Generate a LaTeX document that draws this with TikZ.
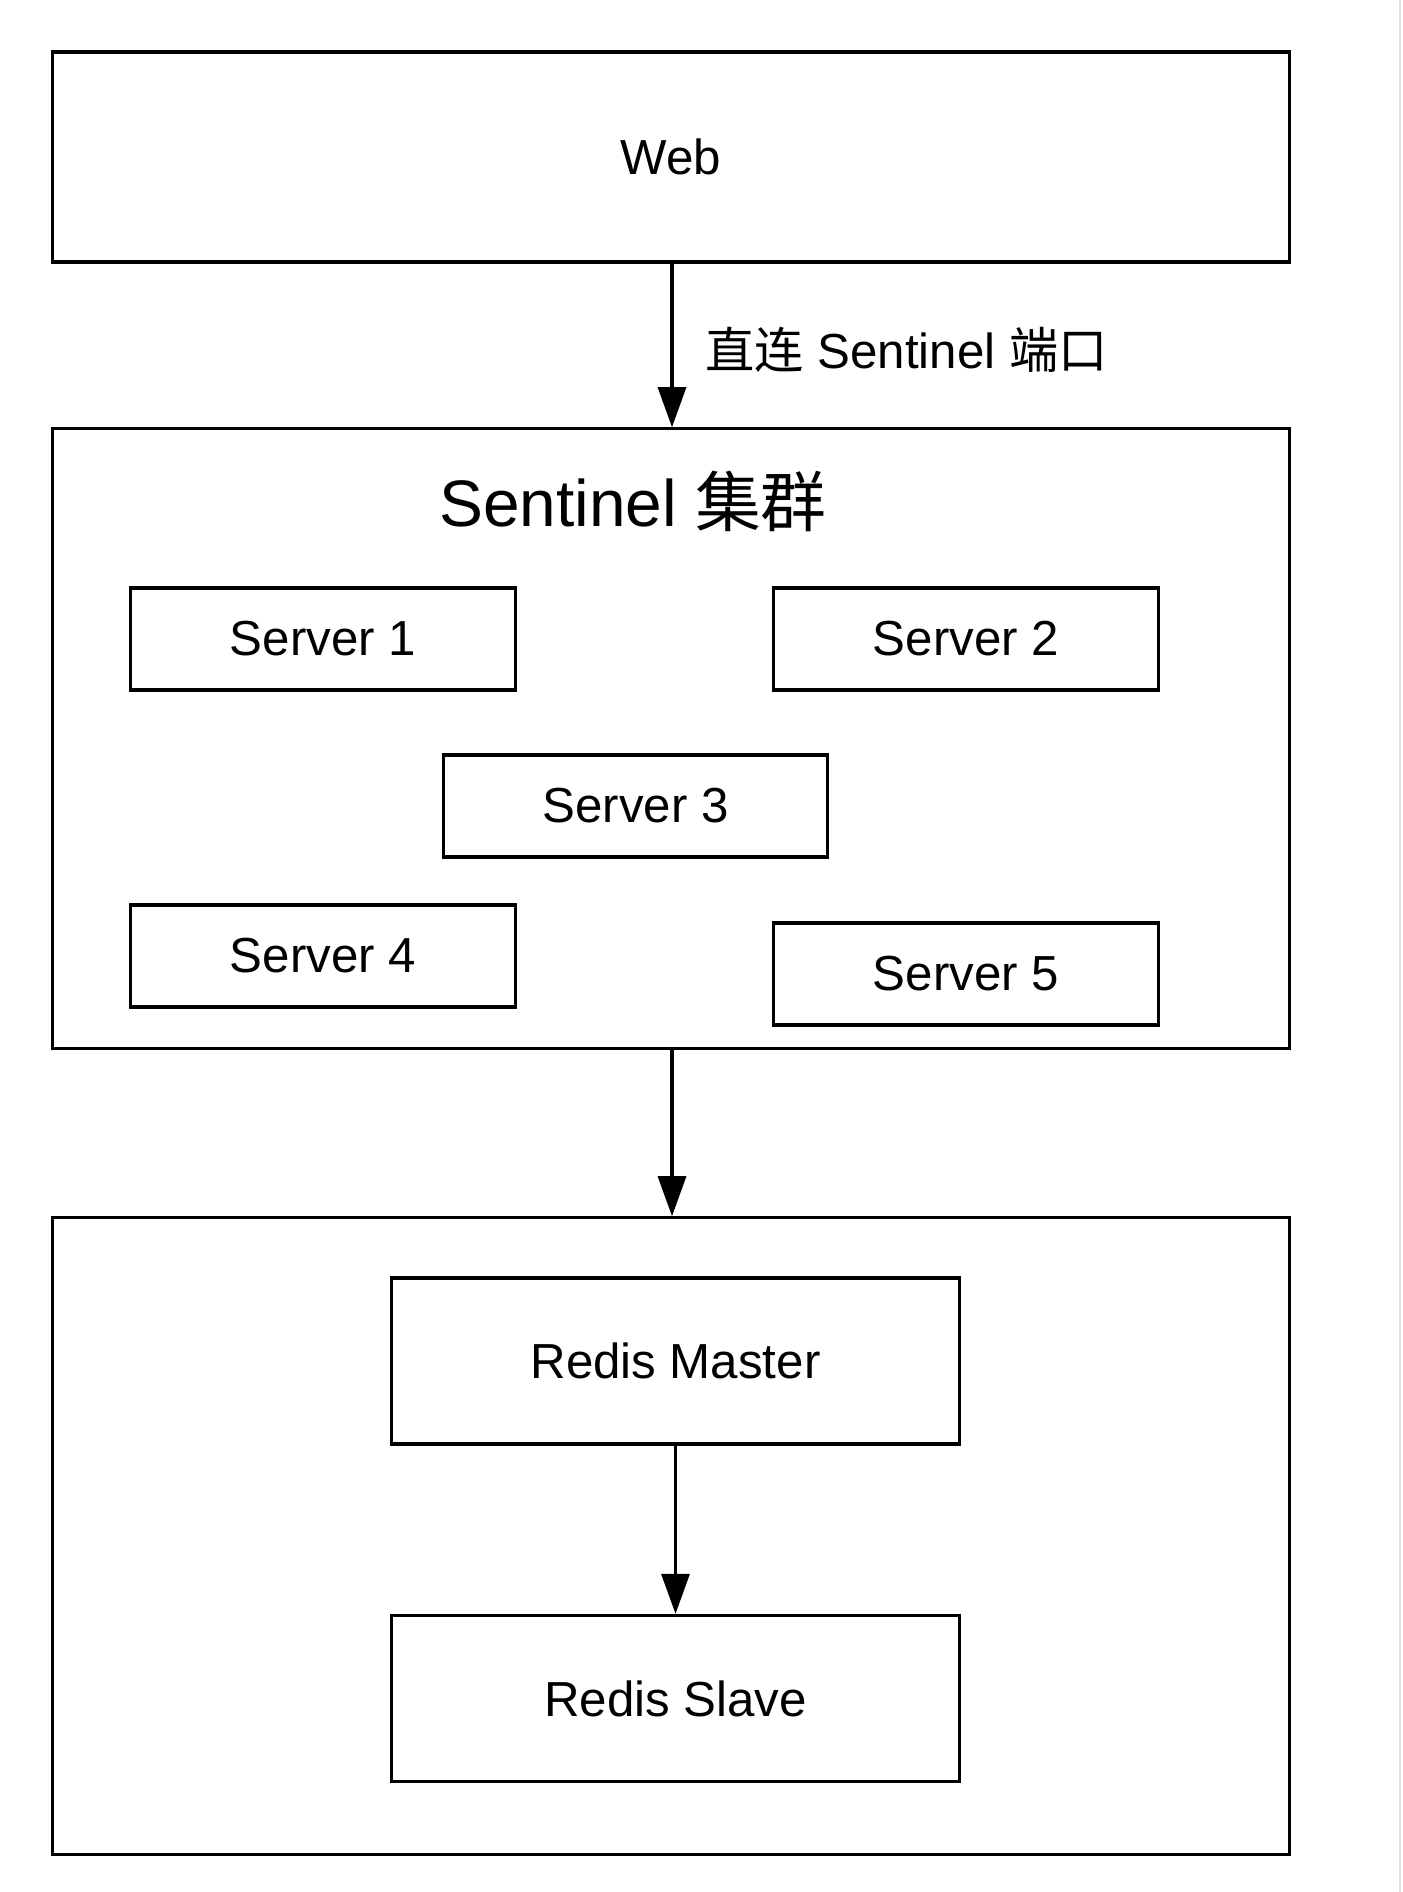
\documentclass[tikz,border=0pt]{standalone}
\usepackage{fontspec}
\setmainfont{Liberation Sans}
\newfontfamily\cjk{Noto Sans CJK SC}
\usetikzlibrary{arrows.meta, positioning}
\tikzstyle{outer} = [rectangle, minimum width=12.37cm, draw=black, line width=0.9pt, inner sep=0pt]
\tikzstyle{server} = [rectangle, minimum width=3.84cm, minimum height=1.02cm, text centered, draw=black, line width=0.9pt]
\tikzstyle{redis} = [rectangle, minimum width=5.67cm, minimum height=1.66cm, text centered, draw=black, line width=0.9pt]
\tikzstyle{arrow} = [line width=0.9pt, -{Triangle[length=0.4cm, width=0.28cm]}]

\begin{document}
\begin{tikzpicture}[x=0.01cm, y=-0.01cm, font=\fontsize{14pt}{17pt}\selectfont]

    \useasboundingbox (0,0) rectangle (1402,1892);
    \draw[gray!25, line width=0.6pt] (1400,0) -- (1400,1892);

    % outer boxes
    \node (web) [outer, minimum height=2.10cm] at (671,157) {Web};
    \node (sentinel) [outer, minimum height=6.19cm] at (671,738.5) {};
    \node (cluster) [outer, minimum height=6.36cm] at (671,1536) {};

    % sentinel servers
    \node (title) at (633,501) {\fontsize{18.7pt}{22pt}\selectfont Sentinel {\cjk 集群}};
    \node (s1) [server] at (323,639) {Server 1};
    \node (s2) [server] at (966,639) {Server 2};
    \node (s3) [server] at (635.5,806) {Server 3};
    \node (s4) [server] at (323,956) {Server 4};
    \node (s5) [server] at (966,974) {Server 5};

    % redis
    \node (master) [redis] at (675.5,1361) {Redis Master};
    \node (slave) [redis] at (675.5,1698.5) {Redis Slave};

    \draw [arrow] (web.south -| 672,0) -- (sentinel.north -| 672,0);
    \node (port) [anchor=west] at (693,350) {{\cjk 直连} Sentinel {\cjk 端口}};
    \draw [arrow] (sentinel.south -| 672,0) -- (cluster.north -| 672,0);
    \draw [arrow] (master) -- (slave);

\end{tikzpicture}
\end{document}
